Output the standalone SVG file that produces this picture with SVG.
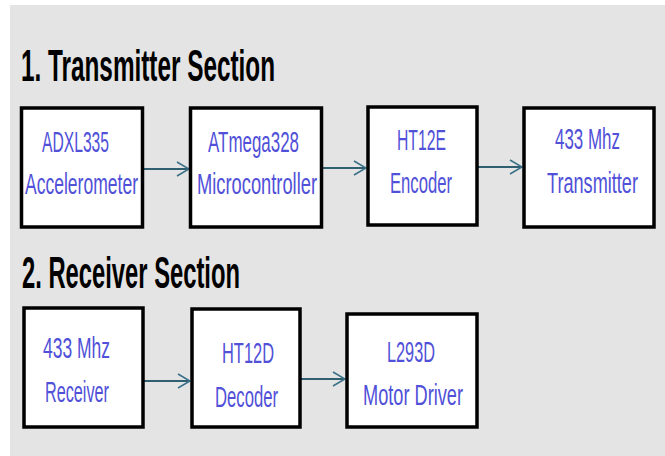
<svg xmlns="http://www.w3.org/2000/svg" width="665" height="456" viewBox="0 0 665 456">
<style>
.bg{fill:#e4e4e4}
.box{fill:#ffffff;stroke:#000000;stroke-width:3.5}
.title{font-family:"Liberation Sans",Arial,sans-serif;font-weight:bold;font-size:44px;fill:#000000}
.lbl{font-family:"Liberation Sans",Arial,sans-serif;font-size:29px;fill:#5050d8;text-anchor:middle}
.conn{stroke:#2f5f70;stroke-width:2;fill:none}
</style>
<defs>
<marker id="chev" viewBox="0 0 14 16" refX="13" refY="8" markerWidth="14" markerHeight="16" markerUnits="userSpaceOnUse" orient="auto">
<path d="M1,1 L13,8 L1,15" fill="none" stroke="#3a7088" stroke-width="1.6"/>
</marker>
</defs>
<rect class="bg" x="10" y="5" width="655" height="451"/>
<text class="title" x="21" y="81" textLength="254" lengthAdjust="spacingAndGlyphs">1. Transmitter Section</text>
<text class="title" x="22" y="288" textLength="218" lengthAdjust="spacingAndGlyphs">2. Receiver Section</text>
<g id="connectors">
<line class="conn" x1="143" y1="169" x2="189" y2="169" marker-end="url(#chev)"/>
<line class="conn" x1="322" y1="168" x2="366" y2="168" marker-end="url(#chev)"/>
<line class="conn" x1="478" y1="167" x2="522" y2="167" marker-end="url(#chev)"/>
<line class="conn" x1="144" y1="381" x2="190" y2="381" marker-end="url(#chev)"/>
<line class="conn" x1="301" y1="379" x2="345" y2="379" marker-end="url(#chev)"/>
</g>
<g id="adxl335">
<rect class="box" x="21.5" y="108" width="121" height="119"/>
<text class="lbl" x="75.5" y="152" textLength="67" lengthAdjust="spacingAndGlyphs">ADXL335</text>
<text class="lbl" x="81.5" y="194" textLength="113" lengthAdjust="spacingAndGlyphs">Accelerometer</text>
</g>
<g id="atmega328">
<rect class="box" x="190.5" y="108" width="131" height="119"/>
<text class="lbl" x="253.5" y="152" textLength="91" lengthAdjust="spacingAndGlyphs">ATmega328</text>
<text class="lbl" x="257" y="194" textLength="120" lengthAdjust="spacingAndGlyphs">Microcontroller</text>
</g>
<g id="ht12e">
<rect class="box" x="368" y="107" width="109" height="118"/>
<text class="lbl" x="421.5" y="150" textLength="49" lengthAdjust="spacingAndGlyphs">HT12E</text>
<text class="lbl" x="421" y="193" textLength="62" lengthAdjust="spacingAndGlyphs">Encoder</text>
</g>
<g id="tx433">
<rect class="box" x="524" y="108" width="130" height="119"/>
<text class="lbl" x="587.5" y="149" textLength="65" lengthAdjust="spacingAndGlyphs">433 Mhz</text>
<text class="lbl" x="592.5" y="193" textLength="91" lengthAdjust="spacingAndGlyphs">Transmitter</text>
</g>
<g id="rx433">
<rect class="box" x="24" y="308" width="119" height="119"/>
<text class="lbl" x="76.5" y="358" textLength="67" lengthAdjust="spacingAndGlyphs">433 Mhz</text>
<text class="lbl" x="77" y="402" textLength="64" lengthAdjust="spacingAndGlyphs">Receiver</text>
</g>
<g id="ht12d">
<rect class="box" x="192" y="309" width="108" height="118"/>
<text class="lbl" x="248" y="363" textLength="52" lengthAdjust="spacingAndGlyphs">HT12D</text>
<text class="lbl" x="246.5" y="407" textLength="63" lengthAdjust="spacingAndGlyphs">Decoder</text>
</g>
<g id="l293d">
<rect class="box" x="347" y="314" width="130" height="113"/>
<text class="lbl" x="411" y="362" textLength="48" lengthAdjust="spacingAndGlyphs">L293D</text>
<text class="lbl" x="413" y="405" textLength="100" lengthAdjust="spacingAndGlyphs">Motor Driver</text>
</g>
</svg>
